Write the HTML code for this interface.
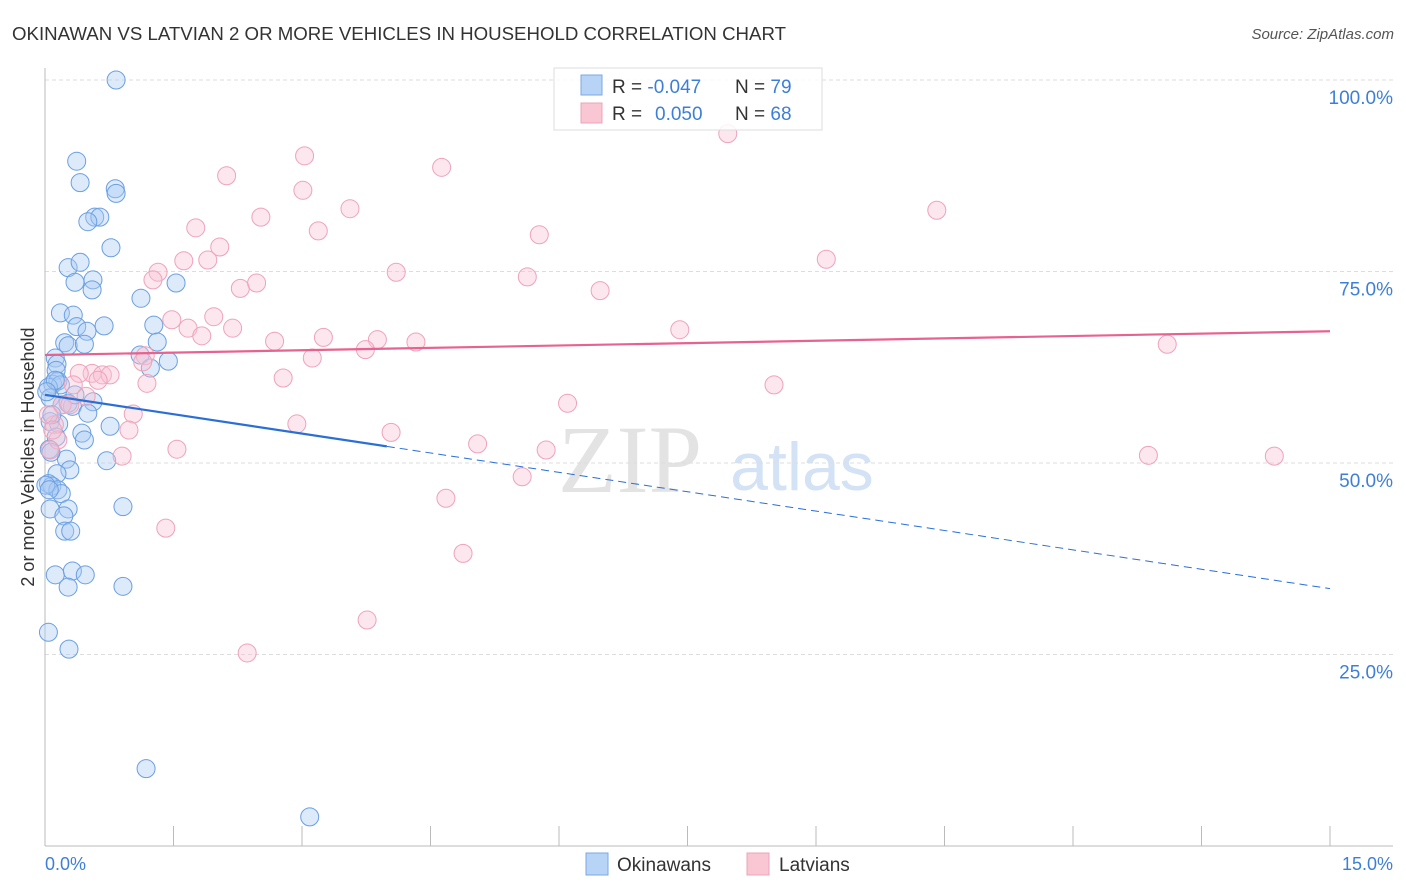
<!DOCTYPE html>
<html><head><meta charset="utf-8"><style>
body{margin:0;background:#fff;font-family:"Liberation Sans",sans-serif}
svg{display:block}
</style></head><body>
<svg id="chart" width="1406" height="892">
<text x="12" y="40" font-size="18" fill="#333" textLength="774" lengthAdjust="spacingAndGlyphs">OKINAWAN VS LATVIAN 2 OR MORE VEHICLES IN HOUSEHOLD CORRELATION CHART</text>
<text x="1394" y="39" font-size="15" fill="#555" font-style="italic" text-anchor="end">Source: ZipAtlas.com</text>
<text x="630" y="492" font-size="96" fill="#e3e3e3" font-family="Liberation Serif,serif" text-anchor="middle">ZIP</text>
<text x="802" y="490" font-size="68" fill="#d3e2f5" text-anchor="middle">atlas</text>
<g id="grid"></g><g id="axes"></g><g id="pts"></g><g id="lines"></g>
<text transform="translate(34,457) rotate(-90)" font-size="18" fill="#333" text-anchor="middle">2 or more Vehicles in Household</text>
<text x="45" y="870" font-size="18" fill="#3d7fd8">0.0%</text>
<text x="1393" y="870" font-size="18" fill="#3d7fd8" text-anchor="end">15.0%</text>
<g>
<rect x="554" y="68" width="268" height="62" fill="rgba(255,255,255,0.85)" stroke="#ddd"/>
<rect x="581" y="75" width="21" height="20" fill="#b7d3f5" stroke="#7aaae6"/>
<rect x="581" y="103" width="21" height="20" fill="#f9c6d4" stroke="#eda4b9"/>
<text x="612" y="93" font-size="19" fill="#333">R = <tspan fill="#3d7fd8">-0.047</tspan><tspan x="735">N = </tspan><tspan fill="#3d7fd8">79</tspan></text>
<text x="612" y="120" font-size="19" fill="#333">R = <tspan x="655" fill="#3d7fd8">0.050</tspan><tspan x="735">N = </tspan><tspan fill="#3d7fd8">68</tspan></text>
</g>
<g>
<rect x="586" y="853" width="22" height="22" fill="#b7d3f5" stroke="#7aaae6"/>
<text x="617" y="871" font-size="19" fill="#333">Okinawans</text>
<rect x="747" y="853" width="22" height="22" fill="#f9c6d4" stroke="#eda4b9"/>
<text x="779" y="871" font-size="19" fill="#333">Latvians</text>
</g>
</svg>
<script>
const yTicks=[25,50,75,100];
const yTickLabels=["25.0%","50.0%","75.0%","100.0%"];
const xTicks=[0,1.5,3,4.5,6,7.5,9,10.5,12,13.5,15];
const okiX=[0.83,0.37,0.41,0.82,0.83,0.58,0.64,0.50,0.77,0.27,0.41,0.56,0.35,0.55,1.12,1.53,0.18,0.33,0.37,0.69,0.49,1.27,0.23,0.27,0.46,1.31,1.11,1.44,1.23,0.12,0.14,0.13,0.09,0.15,0.18,0.04,0.06,0.27,0.32,0.56,0.50,0.06,0.16,0.76,0.13,0.43,0.46,0.05,0.25,0.72,0.29,0.14,0.04,0.08,0.15,0.19,0.06,0.27,0.91,0.22,0.23,0.30,0.12,0.32,0.47,0.27,0.91,0.04,0.28,1.18,3.09,0.01,0.05,0.07,0.20,0.35,0.08,0.12,0.02];
const okiY=[100.0,89.4,86.6,85.8,85.2,82.1,82.1,81.5,78.1,75.5,76.2,73.9,73.6,72.6,71.5,73.5,69.6,69.3,67.8,67.9,67.2,68.0,65.7,65.3,65.5,65.8,64.1,63.3,62.4,63.7,62.9,62.1,60.3,60.7,60.2,59.9,58.5,57.8,57.4,58.0,56.5,55.4,55.1,54.8,53.4,53.9,53.0,51.8,50.5,50.3,49.1,48.6,47.3,47.0,46.5,46.0,44.0,44.0,44.3,43.1,41.1,41.1,35.4,35.9,35.4,33.8,33.9,27.9,25.7,10.1,3.8,47.1,46.5,51.4,57.6,58.9,56.3,60.8,59.3];
const latX=[7.97,3.03,4.63,2.12,3.01,10.41,3.56,2.52,1.76,3.19,5.77,2.04,1.62,1.90,9.12,1.32,4.10,1.26,5.63,2.28,2.47,6.48,1.48,1.97,1.67,2.19,1.83,2.68,3.25,3.88,4.33,3.74,7.41,13.10,1.17,3.12,1.14,0.55,0.40,0.67,0.76,0.62,0.33,2.78,8.51,1.19,0.48,0.20,0.29,1.03,6.10,2.94,0.11,0.15,0.98,4.04,0.90,1.54,5.05,5.85,5.57,12.88,14.35,4.68,1.41,4.88,3.76,2.36,0.06,0.04,0.09];
const latY=[93.0,90.1,88.6,87.5,85.6,83.0,83.2,82.1,80.7,80.3,79.8,78.2,76.4,76.5,76.6,74.9,74.9,73.9,74.3,72.8,73.5,72.5,68.7,69.1,67.6,67.6,66.6,65.9,66.4,66.1,65.8,64.8,67.4,65.5,64.0,63.7,63.2,61.7,61.7,61.5,61.5,60.8,60.2,61.1,60.2,60.4,58.7,57.6,57.6,56.4,57.8,55.1,55.0,53.0,54.3,54.0,50.9,51.8,52.5,51.7,48.2,51.0,50.9,45.4,41.5,38.2,29.5,25.2,51.7,56.3,54.3];
const okiTrend=[58.9,33.6];const okiSolidEnd=3.99;
const latTrend=[64.1,67.2];
const X=v=>45+v/15*1285, Y=v=>846-v*7.66;
const NS="http://www.w3.org/2000/svg";
function mk(t,a,p){const e=document.createElementNS(NS,t);for(const k in a)e.setAttribute(k,a[k]);p.appendChild(e);return e;}
const grid=document.getElementById('grid'),axes=document.getElementById('axes'),pts=document.getElementById('pts'),lines=document.getElementById('lines');
yTicks.forEach((t,i)=>{
 const l=mk('line',{x1:45,x2:1393,y1:Y(t),y2:Y(t),stroke:'#ddd','stroke-dasharray':'4,3'},grid);
 
 
 const tx=mk('text',{x:1393,y:Y(t)+24,'font-size':19,fill:'#3d7fd8','text-anchor':'end'},grid);
 tx.textContent=yTickLabels[i];
 
 
});
const ax=mk('line',{x1:45,x2:1393,y1:846,y2:846,stroke:'#bbb'},axes);


const ay=mk('line',{x1:45,x2:45,y1:68,y2:846,stroke:'#bbb'},axes);


xTicks.forEach(t=>{const l=mk('line',{x1:X(t),x2:X(t),y1:826,y2:846,stroke:'#bbb'},axes);
 
 });
okiX.forEach((v,i)=>{const c=mk('circle',{cx:X(v),cy:Y(okiY[i]),r:9,fill:'rgba(170,202,242,0.4)',stroke:'#6a9fe2','stroke-width':1},pts);
 
 });
latX.forEach((v,i)=>{const c=mk('circle',{cx:X(v),cy:Y(latY[i]),r:9,fill:'rgba(248,196,212,0.4)',stroke:'#eea3ba','stroke-width':1},pts);
 
 });
const oy=x=>okiTrend[0]+(okiTrend[1]-okiTrend[0])*x/15;
const l1=mk('line',{x1:X(0),y1:Y(oy(0)),x2:X(okiSolidEnd),y2:Y(oy(okiSolidEnd)),stroke:'#2a6fd6','stroke-width':2.2},lines);


const l2=mk('line',{x1:X(okiSolidEnd),y1:Y(oy(okiSolidEnd)),x2:X(15),y2:Y(oy(15)),stroke:'#2a6fd6','stroke-width':1,'stroke-dasharray':'8,5'},lines);


const l3=mk('line',{x1:X(0),y1:Y(latTrend[0]),x2:X(15),y2:Y(latTrend[1]),stroke:'#e8628e','stroke-width':2.2},lines);


</script>
</body></html>
